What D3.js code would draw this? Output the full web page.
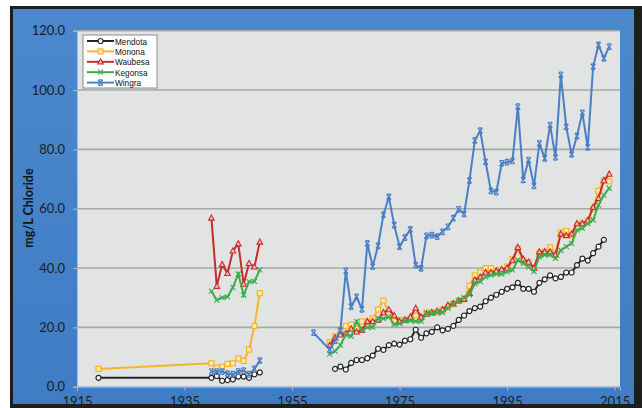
<!DOCTYPE html>
<html lang="en">
	<head>
		<meta charset="utf-8">
		<title>Madison Lakes Chloride</title>
		<script type="text/javascript" src="https://d3js.org/d3.v7.min.js"></script>
		<style type="text/css">
			body { margin: 0; background: #fff; }
			svg text { font-family: Lato, "Open Sans", sans-serif; }
		</style>
	</head>
	<body>
		<script type="text/javascript">

			// Data: [year, mg/L]; null breaks a line
			var mendota = [[1919,3.0],[1940,3.0],[1941,3.6],[1942,2.0],[1943,2.2],[1944,2.5],[1945,3.4],[1946,3.4],[1947,3.0],[1948,4.2],[1949,4.8],[1950,null],
				[1963,6.0],[1964,6.8],[1965,5.8],[1966,8.0],[1967,9.0],[1968,9.0],[1969,9.6],[1970,10.5],[1971,12.8],[1972,12.4],[1973,14.0],[1974,14.5],
				[1975,14.2],[1976,15.5],[1977,16.0],[1978,19.2],[1979,16.5],[1980,18.0],[1981,18.5],[1982,20.0],[1983,19.0],[1984,19.5],[1985,20.5],[1986,22.5],
				[1987,24.0],[1988,25.5],[1989,26.5],[1990,27.0],[1991,28.8],[1992,30.0],[1993,31.0],[1994,32.0],[1995,33.0],[1996,33.5],[1997,35.0],[1998,33.0],
				[1999,33.0],[2000,32.0],[2001,35.0],[2002,36.2],[2003,37.5],[2004,36.5],[2005,37.0],[2006,38.5],[2007,38.5],[2008,41.0],[2009,43.2],[2010,42.5],
				[2011,45.0],[2012,47.2],[2013,49.5]];

			var monona = [[1919,6.0],[1940,7.9],[1941,6.4],[1942,6.7],[1943,7.7],[1944,7.9],[1945,9.5],[1946,8.7],[1947,12.5],[1948,20.5],[1949,31.5],[1950,null],
				[1962,15.0],[1963,17.0],[1964,19.0],[1965,20.5],[1966,21.0],[1967,19.5],[1968,22.0],[1969,22.0],[1970,23.0],[1971,26.0],[1972,29.0],[1973,25.0],
				[1974,22.0],[1975,22.5],[1976,22.5],[1977,23.0],[1978,24.0],[1979,23.0],[1980,25.0],[1981,25.0],[1982,25.0],[1983,26.0],[1984,27.0],[1985,28.0],
				[1986,29.0],[1987,29.5],[1988,34.0],[1989,37.5],[1990,38.5],[1991,40.0],[1992,40.0],[1993,39.0],[1994,39.0],[1995,40.5],[1996,43.0],[1997,46.5],
				[1998,42.5],[1999,42.0],[2000,40.0],[2001,45.0],[2002,45.5],[2003,47.0],[2004,45.0],[2005,52.0],[2006,52.5],[2007,51.0],[2008,54.0],[2009,55.0],
				[2010,56.0],[2011,60.0],[2012,66.0],[2013,69.5],[2014,69.2]];

			var waubesa = [[1940,56.9],[1941,33.9],[1942,41.2],[1943,38.2],[1944,45.8],[1945,48.2],[1946,34.6],[1947,41.6],[1948,40.4],[1949,48.8],[1950,null],
				[1962,14.0],[1963,16.5],[1964,17.5],[1965,18.0],[1966,19.5],[1967,18.5],[1968,19.0],[1969,22.0],[1970,22.0],[1971,22.5],[1972,25.0],[1973,26.0],
				[1974,24.0],[1975,22.0],[1976,22.5],[1977,23.5],[1978,26.5],[1979,23.5],[1980,24.5],[1981,25.0],[1982,25.5],[1983,26.0],[1984,27.5],[1985,28.0],
				[1986,29.0],[1987,29.5],[1988,31.5],[1989,36.0],[1990,37.0],[1991,38.5],[1992,38.5],[1993,39.0],[1994,39.5],[1995,40.0],[1996,42.5],[1997,47.0],
				[1998,43.0],[1999,42.0],[2000,40.0],[2001,45.5],[2002,45.5],[2003,45.5],[2004,44.5],[2005,51.5],[2006,51.0],[2007,51.5],[2008,55.0],[2009,55.0],
				[2010,56.0],[2011,60.5],[2012,63.5],[2013,69.5],[2014,71.7]];

			var kegonsa = [[1940,32.2],[1941,29.2],[1942,30.0],[1943,30.3],[1944,33.5],[1945,38.0],[1946,30.9],[1947,35.4],[1948,35.5],[1949,39.4],[1950,null],
				[1962,11.0],[1963,12.0],[1964,14.0],[1965,17.5],[1966,17.0],[1967,22.0],[1968,19.0],[1969,20.0],[1970,20.0],[1971,23.0],[1972,23.0],[1973,23.5],
				[1974,21.0],[1975,21.3],[1976,22.2],[1977,22.2],[1978,22.0],[1979,22.0],[1980,24.7],[1981,24.7],[1982,25.0],[1983,25.0],[1984,26.4],[1985,28.0],
				[1986,29.0],[1987,30.0],[1988,31.0],[1989,34.8],[1990,35.4],[1991,37.0],[1992,37.6],[1993,38.0],[1994,38.0],[1995,38.7],[1996,39.3],[1997,42.7],
				[1998,41.6],[1999,40.4],[2000,38.8],[2001,43.8],[2002,44.4],[2003,44.4],[2004,43.3],[2005,46.0],[2006,47.2],[2007,48.3],[2008,52.8],[2009,53.4],
				[2010,55.0],[2011,56.2],[2012,61.2],[2013,64.6],[2014,66.9]];

			var wingra = [[1940,5.1],[1941,5.1],[1942,5.1],[1943,4.4],[1944,4.2],[1945,5.1],[1946,5.4],[1947,4.2],[1948,6.0],[1949,8.8],[1950,null],
				[1959,18.2],[1962,12.5],[1963,15.5],[1964,19.0],[1965,39.0],[1966,27.0],[1967,30.3],[1968,26.1],[1969,48.3],[1970,40.5],[1971,47.5],[1972,57.9],
				[1973,64.0],[1974,54.5],[1975,47.2],[1976,50.3],[1977,53.0],[1978,41.0],[1979,39.9],[1980,50.8],[1981,51.1],[1982,50.6],[1983,52.2],[1984,53.9],
				[1985,56.8],[1986,59.8],[1987,58.2],[1988,69.5],[1989,83.0],[1990,86.3],[1991,75.8],[1992,66.0],[1993,65.6],[1994,75.3],[1995,75.7],[1996,76.1],
				[1997,94.4],[1998,69.7],[1999,76.4],[2000,67.7],[2001,82.0],[2002,77.0],[2003,88.2],[2004,77.3],[2005,105.1],[2006,87.6],[2007,78.3],[2008,84.5],
				[2009,92.3],[2010,80.7],[2011,107.9],[2012,115.2],[2013,110.7],[2014,114.6]];

			var lakeNames = ["Mendota", "Monona", "Waubesa", "Kegonsa", "Wingra"];
			var xTicks = [1915, 1935, 1955, 1975, 1995, 2015];
			var yTicks = [0, 20, 40, 60, 80, 100, 120];

			var series = [
				{name: lakeNames[0], values: mendota, color: "#262626", shape: "circle"},
				{name: lakeNames[1], values: monona, color: "#f4b42c", shape: "square"},
				{name: lakeNames[2], values: waubesa, color: "#c92b2b", shape: "triangle"},
				{name: lakeNames[3], values: kegonsa, color: "#3aad4c", shape: "cross"},
				{name: lakeNames[4], values: wingra, color: "#4a7fc6", shape: "bar"}
			];

			//Width and height
			var w = 642;
			var h = 408;

			var svg = d3.select("body")
						.append("svg")
						.attr("width", w)
						.attr("height", h);

			var defs = svg.append("defs");
			var grad = defs.append("linearGradient")
				.attr("id", "frame").attr("x1", 0).attr("y1", 0).attr("x2", 0).attr("y2", 1);
			grad.append("stop").attr("offset", "0").attr("stop-color", "#4b88cd");
			grad.append("stop").attr("offset", "1").attr("stop-color", "#3f7cc3");

			// dark border and blue frame
			svg.append("rect").attr("x", 10).attr("y", 6).attr("width", 632).attr("height", 402).attr("fill", "#1e1e1e");
			svg.append("rect").attr("x", 13).attr("y", 9).attr("width", 621).attr("height", 395).attr("fill", "url(#frame)");

			var x = d3.scaleLinear().domain([1915, 2016]).range([77, 620]);
			var y = d3.scaleLinear().domain([0, 120]).range([386.7, 30.7]);

			// plot area
			svg.append("rect")
				.attr("x", x.range()[0]).attr("y", y(120))
				.attr("width", x.range()[1] - x.range()[0]).attr("height", y(0) - y(120))
				.attr("fill", "#e2e4e4");

			// gridlines
			svg.append("g").selectAll("line")
				.data(yTicks.filter(function(d) { return d > 0; }))
				.enter().append("line")
				.attr("x1", x.range()[0]).attr("x2", x.range()[1])
				.attr("y1", function(d) { return y(d); }).attr("y2", function(d) { return y(d); })
				.attr("stroke", "#a9a9a9").attr("stroke-width", 1.6);

			var yAxis = svg.append("g")
				.attr("transform", "translate(" + x.range()[0] + ",0)")
				.call(d3.axisLeft(y).tickValues(yTicks).tickFormat(d3.format(".1f")).tickSize(4).tickPadding(8));
			yAxis.select(".domain").attr("stroke", "#b8b8b8");
			yAxis.selectAll(".tick line").attr("stroke", "#b8b8b8");
			yAxis.selectAll("text").attr("font-size", 13).attr("fill", "#1c1c1c");

			var xAxis = svg.append("g")
				.attr("transform", "translate(0," + y(0) + ")")
				.call(d3.axisBottom(x).tickValues(xTicks).tickFormat(d3.format("d")).tickSize(4).tickPadding(6.5));
			xAxis.select(".domain").attr("stroke", "#b8b8b8");
			xAxis.selectAll(".tick line").attr("stroke", "#b8b8b8");
			xAxis.selectAll("text").attr("font-size", 13).attr("fill", "#1c1c1c");

			// axis title
			svg.append("text")
				.attr("transform", "translate(33,208) rotate(-90)")
				.attr("text-anchor", "middle")
				.attr("font-size", 12.5)
				.attr("font-weight", "bold")
				.attr("fill", "#141414")
				.text("mg/L Chloride");

			// bottom edge of the border covers the year labels a little
			svg.append("rect").attr("x", 10).attr("y", 404).attr("width", 632).attr("height", 4).attr("fill", "#1e1e1e");

			var line = d3.line()
				.defined(function(d) { return d[1] !== null; })
				.x(function(d) { return x(d[0]); })
				.y(function(d) { return y(d[1]); });

			function marker(sel, s) {
				if (s.shape == "circle") {
					sel.append("circle").attr("r", 2.5).attr("fill", "#fff").attr("stroke", s.color).attr("stroke-width", 1.2);
				} else if (s.shape == "square") {
					sel.append("rect").attr("x", -2.5).attr("y", -2.5).attr("width", 5).attr("height", 5)
						.attr("fill", "#fde9a8").attr("stroke", s.color).attr("stroke-width", 1.2);
				} else if (s.shape == "triangle") {
					sel.append("path").attr("d", "M0,-3L2.8,2.2L-2.8,2.2Z")
						.attr("fill", "#f3c2c0").attr("stroke", s.color).attr("stroke-width", 1.1);
				} else if (s.shape == "cross") {
					sel.append("path").attr("d", "M-2.5,-2.5L2.5,2.5M2.5,-2.5L-2.5,2.5")
						.attr("fill", "none").attr("stroke", s.color).attr("stroke-width", 1.2);
				} else {
					sel.append("path").attr("d", "M-2.3,-2.6L2.3,2.6M2.3,-2.6L-2.3,2.6M-1.8,-2.8H1.8M-1.8,2.8H1.8")
						.attr("fill", "none").attr("stroke", s.color).attr("stroke-width", 1.2);
				}
			}

			series.forEach(function(s) {
				var g = svg.append("g");
				g.append("path")
					.datum(s.values)
					.attr("d", line)
					.attr("fill", "none")
					.attr("stroke", s.color)
					.attr("stroke-width", 2);
				g.selectAll("g")
					.data(s.values.filter(function(d) { return d[1] !== null; }))
					.enter().append("g")
					.attr("transform", function(d) { return "translate(" + x(d[0]) + "," + y(d[1]) + ")"; })
					.each(function() { marker(d3.select(this), s); });
			});

			// legend
			var legend = svg.append("g").attr("transform", "translate(83,35)");
			legend.append("rect").attr("width", 74).attr("height", 53)
				.attr("fill", "#fff").attr("stroke", "#8a8a8a").attr("stroke-width", 1);
			var item = legend.selectAll(".item")
				.data(series)
				.enter().append("g")
				.attr("class", "item")
				.attr("transform", function(d, i) { return "translate(0," + (6 + i * 10.4) + ")"; });
			item.append("line").attr("x1", 4).attr("x2", 31)
				.attr("stroke", function(d) { return d.color; }).attr("stroke-width", 2);
			item.append("g").attr("transform", "translate(17.5,0)")
				.each(function(d) { marker(d3.select(this), d); });
			// narrow legend font
			item.append("text")
				.attr("transform", "translate(32,3.5) scale(0.84,1)")
				.attr("font-size", 9.8)
				.attr("fill", "#111")
				.style("font-family", "'Liberation Sans', Arial, sans-serif")
				.text(function(d) { return d.name; });

		</script>
	</body>
</html>
